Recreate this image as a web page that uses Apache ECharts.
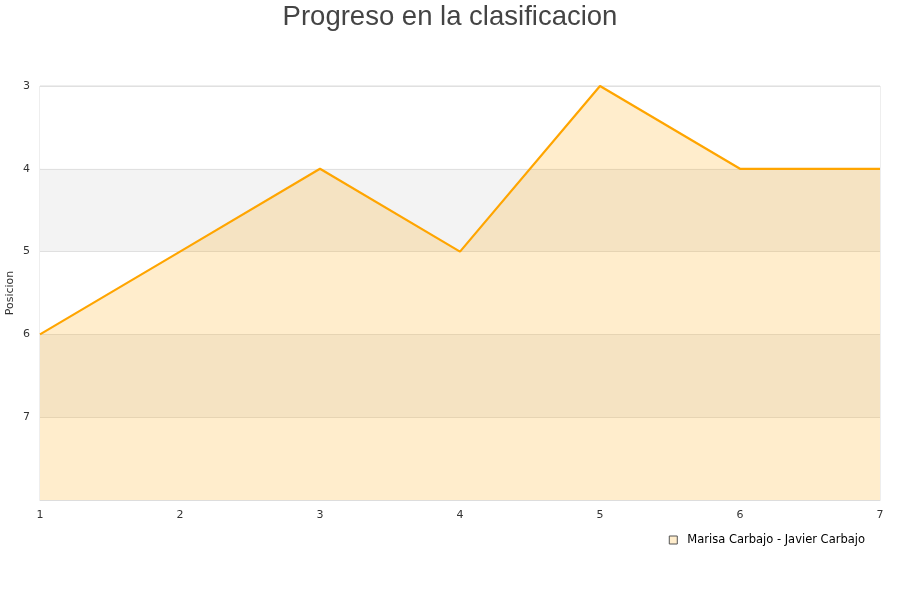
<!DOCTYPE html>
<html><head><meta charset="utf-8">
<script src="https://cdn.jsdelivr.net/npm/echarts@6/dist/echarts.min.js"></script>
<style>html,body{margin:0;padding:0;background:#fff}#c{width:900px;height:600px}</style>
</head><body><div id="c"></div>
<script>
const jornadas = ['1','2','3','4','5','6','7'];
const posiciones = [6,5,4,5,3,4,4];
const serieNombre = 'Marisa Carbajo - Javier Carbajo';
const titulo = 'Progreso en la clasificacion';
const chart = echarts.init(document.getElementById('c'));
chart.setOption({
  animation:false,
  title:{text:titulo,left:'center',top:-2,textStyle:{fontSize:27.5,fontWeight:'normal',color:'#444',fontFamily:'Liberation Sans'}},
  grid:{left:40,right:20,top:86,bottom:100,show:true,borderColor:'#ddd',borderWidth:1,backgroundColor:'transparent',outerBoundsMode:'none',containLabel:false},
  legend:{right:30,top:529,itemWidth:8,itemHeight:8,icon:'rect',textStyle:{fontSize:11.5,color:'#000',fontFamily:'DejaVu Sans',padding:[0,0,0,5]},
    data:[{name:serieNombre,itemStyle:{color:'rgba(255,165,0,0.2)',borderColor:'#555',borderWidth:1}}]},
  xAxis:{type:'category',data:jornadas,boundaryGap:false,
    axisLine:{lineStyle:{color:'#ddd'}},axisTick:{show:false},
    axisLabel:{color:'#333',fontSize:11,margin:10,fontFamily:'DejaVu Sans'},splitLine:{show:false}},
  yAxis:{type:'value',inverse:true,min:3,max:8,interval:1,name:'Posicion',nameLocation:'middle',nameGap:24,nameMoveOverlap:false,
    nameTextStyle:{fontSize:11,color:'#333',fontFamily:'DejaVu Sans'},
    axisLine:{show:false},axisTick:{show:false},
    axisLabel:{color:'#333',fontSize:11,margin:10,fontFamily:'DejaVu Sans',formatter:v=>v===8?'':v},
    splitLine:{show:true,lineStyle:{color:'#e0e0e0'}},
    splitArea:{show:true,areaStyle:{color:['#ffffff','#f3f3f3']}}},
  series:[{name:serieNombre,type:'line',data:posiciones,symbol:'none',
    lineStyle:{color:'#FFA500',width:2.2},itemStyle:{color:'#FFA500'},
    areaStyle:{origin:'end',color:'rgba(255,165,0,0.2)',opacity:1}}]
});
</script></body></html>
